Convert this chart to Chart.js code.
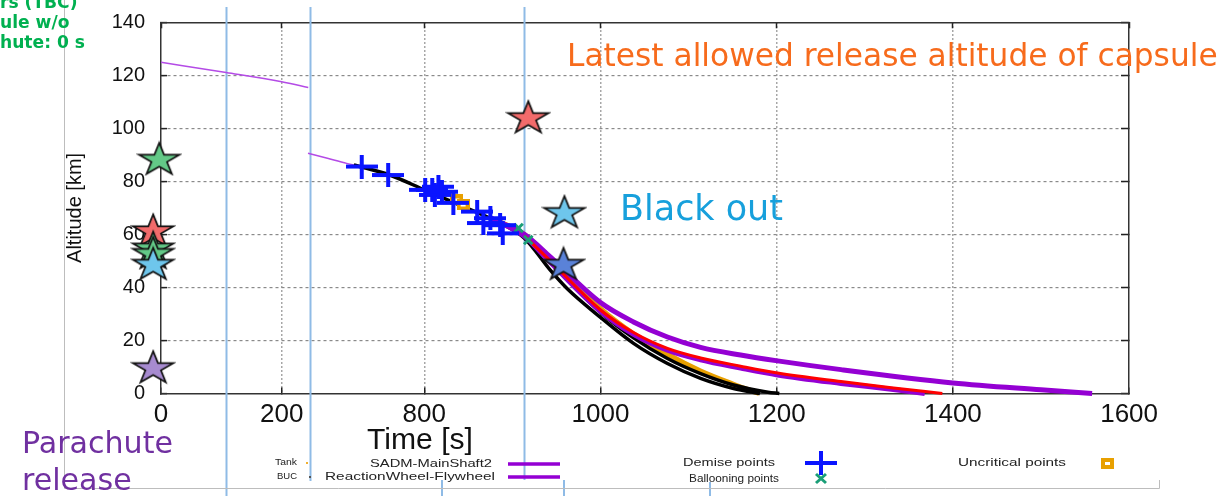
<!DOCTYPE html>
<html><head><meta charset="utf-8">
<script src="https://cdn.jsdelivr.net/npm/chart.js@4/dist/chart.umd.min.js"></script>
<style>
html,body{margin:0;padding:0;background:#fff;overflow:hidden}
#wrap{position:relative;width:1224px;height:496px}
</style></head><body>
<div id="wrap"><canvas id="c"></canvas></div>
<script>
// ---------- data (time in s, altitude in km) ----------
const xTickValues = [0, 200, 800, 1000, 1200, 1400, 1600];
const yTickValues = [0, 20, 40, 60, 80, 100, 120, 140];

const preBreakTime = [0, 108, 200, 244];
const preBreakAlt  = [124.9, 121.1, 117.6, 115.4];

const approachTime = [668, 690, 712, 730];
const approachAlt  = [90.6, 88.7, 86.8, 85.5];

const sadmTime = [875, 913.6, 943, 1000, 1037.5, 1076, 1113.6, 1159, 1201, 1273, 1400, 1500, 1558];
const sadmAlt  = [66.2, 60.0, 51.5, 34.3, 27.0, 21.3, 17.4, 14.5, 12.3, 9.0, 4.0, 1.4, 0];

const flywheelTime = [875, 913.6, 943, 1000, 1037.5, 1076, 1113.6, 1159, 1201, 1273, 1330, 1368];
const flywheelAlt  = [66.2, 59.3, 49.5, 31.0, 22.3, 16.3, 12.7, 9.6, 7.0, 3.8, 1.6, 0];

const redTime = [913.6, 943, 1000, 1037.5, 1076, 1113.6, 1159, 1201, 1273, 1330, 1388];
const redAlt  = [59.5, 50.0, 31.5, 23.0, 17.0, 13.4, 10.3, 7.7, 4.5, 2.2, 0];

const orangeTime = [875, 913.6, 943, 1000, 1037.5, 1076, 1113.6, 1151, 1180];
const orangeAlt  = [66.2, 60.0, 50.5, 32.0, 22.5, 14.8, 8.5, 3.5, 0];

const blackATime = [720, 760, 800, 841, 875, 913.6, 943, 962, 1000, 1037.5, 1076, 1113.6, 1151, 1181];
const blackAAlt  = [86.2, 82.5, 76.8, 70.9, 66.0, 58.6, 46.5, 39.6, 28.7, 18.9, 11.3, 5.7, 1.9, 0];

const blackBTime = [930, 943, 1000, 1037.5, 1076, 1113.6, 1151, 1190, 1203];
const blackBAlt  = [55.5, 50.0, 30.6, 21.0, 13.2, 7.5, 3.2, 0.5, 0];

const demiseTime = [729, 759, 801, 809, 812, 816, 820, 833, 860, 867, 875, 886, 889];
const demiseAlt  = [85.6, 82.4, 76.8, 76.8, 74.9, 78.0, 76.1, 71.9, 68.6, 64.3, 66.1, 63.5, 60.4];

const uncriticalTime = [837, 844];
const uncriticalAlt  = [73.0, 71.1];

const balloonTime = [907, 918];
const balloonAlt  = [62.4, 57.9];

const starTime  = [-3, -13, -13, -13, -13, -13, 918, 959, 958];
const starAlt   = [88.7, 61.7, 55.2, 53.2, 49.1, 10.1, 104.4, 68.6, 49.1];
const starColor = ['#63c987', '#f26b6b', '#63c987', '#63c987', '#6ec6ec', '#a78bd0', '#f26b6b', '#6ec6ec', '#5a82d8'];

// ---------- broken time axis mapping ----------
const toAxis = t => t <= 400 ? t * 0.6035 : 263.3 + (t - 800) * 0.881;
const pts = (ts, as) => ts.map((t, i) => ({x: toAxis(t), y: as[i]}));

// ---------- marker images ----------
function makeStar(fill) {
  const c = document.createElement('canvas'); c.width = 46; c.height = 36;
  const g = c.getContext('2d');
  const cx = 23, cy = 19.6, R = 21.5, r = R * 0.382, sy = 0.8;
  g.beginPath();
  for (let i = 0; i < 10; i++) {
    const a = -Math.PI / 2 + i * Math.PI / 5, rr = i % 2 ? r : R;
    const x = cx + rr * Math.cos(a), y = cy + rr * Math.sin(a) * sy;
    i ? g.lineTo(x, y) : g.moveTo(x, y);
  }
  g.closePath(); g.fillStyle = fill; g.fill();
  g.lineWidth = 1.7; g.strokeStyle = '#111'; g.lineJoin = 'miter'; g.stroke();
  return c;
}
function makeCross() {
  const c = document.createElement('canvas'); c.width = 32; c.height = 24;
  const g = c.getContext('2d');
  g.fillStyle = '#0a14ff';
  g.fillRect(0, 10, 32, 4); g.fillRect(14, 0, 4, 24);
  return c;
}
function makeSquare() {
  const c = document.createElement('canvas'); c.width = 13; c.height = 11;
  const g = c.getContext('2d');
  g.fillStyle = '#e8a000'; g.fillRect(0, 0, 13, 11);
  g.fillStyle = '#fff'; g.fillRect(4, 4, 5, 3);
  return c;
}
const crossImg = makeCross();
const squareImg = makeSquare();
const starImgs = starColor.map(makeStar);

// ---------- overlay plugin ----------
function fitText(ctx, text, x, y, w, weight, family, color, align) {
  ctx.font = `${weight} 100px ${family}`;
  const m = ctx.measureText(text).width;
  const size = 100 * w / m;
  ctx.font = `${weight} ${size}px ${family}`;
  ctx.fillStyle = color; ctx.textAlign = align || 'left'; ctx.textBaseline = 'middle';
  ctx.fillText(text, x, y);
  return size;
}
function squeezeText(ctx, text, x, y, w, px, family, color, align) {
  ctx.save();
  ctx.font = `${px}px ${family}`;
  const m = ctx.measureText(text).width;
  const sx = w / m;
  ctx.translate(x, y); ctx.scale(sx, 1);
  ctx.fillStyle = color; ctx.textAlign = align; ctx.textBaseline = 'middle';
  ctx.fillText(text, 0, 0);
  ctx.restore();
}
const overlay = {
  id: 'overlay',
  beforeDatasetsDraw(chart) {
    const ctx = chart.ctx;
    ctx.save();
    ctx.strokeStyle = '#8fbbe6'; ctx.lineWidth = 2;
    [[226.5, 7, 496], [310.5, 7, 481], [524.5, 7, 480], [442, 480, 496], [564, 480, 496], [710, 482, 496]].forEach(([x, y1, y2]) => {
      ctx.beginPath(); ctx.moveTo(x, y1); ctx.lineTo(x, y2); ctx.stroke();
    });
    ctx.restore();
  },
  afterDraw(chart) {
    const ctx = chart.ctx;
    ctx.save();
    // slide frame lines
    ctx.strokeStyle = '#bdbdbd'; ctx.lineWidth = 1;
    ctx.beginPath(); ctx.moveTo(64.5, 0); ctx.lineTo(64.5, 488.5); ctx.lineTo(1159.5, 488.5); ctx.lineTo(1159.5, 480); ctx.stroke();

    const DV = '"DejaVu Sans", Verdana, sans-serif';
    const LS = '"Liberation Sans", Arial, sans-serif';
    // x-axis title
    fitText(ctx, 'Time [s]', 420, 441, 106, 'normal', LS, '#111', 'center');
    // slide annotations
    fitText(ctx, 'Latest allowed release altitude of capsule', 567, 58, 651, 'normal', DV, '#f76b1c', 'left');
    fitText(ctx, 'Black out', 620, 211, 163, 'normal', DV, '#17a0dc', 'left');
    const ps = fitText(ctx, 'Parachute', 22, 445, 151, 'normal', DV, '#7030a0', 'left');
    ctx.font = `normal ${ps}px ${DV}`; ctx.fillText('release', 22, 482);
    // cut-off green note
    ctx.font = `bold 100px ${DV}`;
    const gs = 100 * 85 / ctx.measureText('hute: 0 s').width;
    ctx.font = `bold ${gs}px ${DV}`; ctx.fillStyle = '#00b050'; ctx.textAlign = 'left'; ctx.textBaseline = 'alphabetic';
    ctx.fillText('rs (TBC)', 0, 8);
    ctx.fillText('ule w/o', 0, 28);
    ctx.fillText('hute: 0 s', 0, 48);

    // legend block
    squeezeText(ctx, 'Tank', 297, 463, 22, 9, LS, '#222', 'right');
    squeezeText(ctx, 'BUC', 297, 477, 20, 9, LS, '#222', 'right');
    ctx.fillStyle = '#f0b030'; ctx.fillRect(306, 462, 2, 2);
    ctx.fillStyle = '#555'; ctx.fillRect(309, 476, 2, 2);
    squeezeText(ctx, 'SADM-MainShaft2', 492, 464, 122, 11, LS, '#222', 'right');
    squeezeText(ctx, 'ReactionWheel-Flywheel', 495, 477, 170, 11, LS, '#222', 'right');
    ctx.strokeStyle = '#9400d3'; ctx.lineWidth = 3.5;
    ctx.beginPath(); ctx.moveTo(508, 464); ctx.lineTo(560, 464); ctx.moveTo(508, 477); ctx.lineTo(560, 477); ctx.stroke();
    squeezeText(ctx, 'Demise points', 775, 463, 92, 11, LS, '#222', 'right');
    ctx.drawImage(crossImg, 821 - 16, 463 - 12);
    squeezeText(ctx, 'Ballooning points', 779, 479, 90, 11, LS, '#222', 'right');
    ctx.strokeStyle = '#1a9e77'; ctx.lineWidth = 3;
    ctx.beginPath(); ctx.moveTo(816, 474); ctx.lineTo(826, 483); ctx.moveTo(826, 474); ctx.lineTo(816, 483); ctx.stroke();
    squeezeText(ctx, 'Uncritical points', 1066, 463, 108, 11, LS, '#222', 'right');
    ctx.drawImage(squareImg, 1107 - 6, 463 - 5);
    ctx.restore();
  }
};

// ---------- chart ----------
const xTicksBuild = s => { s.ticks = xTickValues.map(t => ({value: toAxis(t)})); };
const noPad = s => { s.paddingTop = 0; s.paddingBottom = 0; s.paddingLeft = 0; s.paddingRight = 0; };
const lineDs = (label, ts, as, color, width, order) => ({
  type: 'line', label, data: pts(ts, as), borderColor: color, borderWidth: width,
  pointRadius: 0, fill: false, cubicInterpolationMode: 'monotone', order, clip: false
});

new Chart(document.getElementById('c'), {
  type: 'scatter',
  data: {
    datasets: [
      {label: 'Stars', data: pts(starTime, starAlt), pointStyle: starImgs, pointRadius: 18, order: 0, clip: false},
      {label: 'Demise points', data: pts(demiseTime, demiseAlt), pointStyle: crossImg, pointRadius: 12, order: 1},
      {label: 'Uncritical points', data: pts(uncriticalTime, uncriticalAlt), pointStyle: squareImg, pointRadius: 6, order: 1},
      {label: 'Ballooning points', data: pts(balloonTime, balloonAlt), pointStyle: 'crossRot', pointRadius: 6, borderWidth: 3, borderColor: '#1a9e77', backgroundColor: '#1a9e77', order: 1},
      lineDs('Approach', approachTime, approachAlt, '#b44be6', 1.5, 9),
      lineDs('Pre-break', preBreakTime, preBreakAlt, '#b44be6', 1.5, 9),
      lineDs('SADM-MainShaft2', sadmTime, sadmAlt, '#9400d3', 5, 5),
      lineDs('Red', redTime, redAlt, '#ff0000', 3, 4),
      lineDs('ReactionWheel-Flywheel', flywheelTime, flywheelAlt, '#9400d3', 5, 6),
      lineDs('Tank', orangeTime, orangeAlt, '#e8a000', 5, 8),
      lineDs('BUC A', blackATime, blackAAlt, '#000', 3.5, 7),
      lineDs('BUC B', blackBTime, blackBAlt, '#000', 3.5, 7)
    ]
  },
  options: {
    responsive: true, maintainAspectRatio: false, animation: false,
    layout: {padding: 0},
    plugins: {legend: {display: false}, tooltip: {enabled: false}},
    scales: {
      x: {
        type: 'linear', position: 'bottom', min: 0, max: 968,
        afterBuildTicks: xTicksBuild,
        afterFit: s => { s.height = 102.5; noPad(s); },
        ticks: {autoSkip: false, maxRotation: 0, padding: 12, color: '#111',
          font: {family: '"Liberation Sans", Arial, sans-serif', size: 26},
          callback: (v, i) => String(xTickValues[i])},
        grid: {color: c => (c.index === 0 || c.index === xTickValues.length - 1) ? 'rgba(0,0,0,0)' : '#8a8a8a',
          lineWidth: 1.5, drawTicks: true, tickLength: -6, tickColor: '#222', tickWidth: 1.5},
        border: {color: '#333', width: 1.5, dash: [1.5, 2.5]}
      },
      xTop: {
        type: 'linear', position: 'top', min: 0, max: 968,
        afterBuildTicks: xTicksBuild,
        afterFit: s => { s.height = 22.3; noPad(s); },
        ticks: {display: false},
        grid: {drawOnChartArea: false, drawTicks: true, tickLength: -6, tickColor: '#222', tickWidth: 1.5},
        border: {color: '#333', width: 1.5}
      },
      y: {
        type: 'linear', position: 'left', min: 0, max: 140,
        afterBuildTicks: s => { s.ticks = yTickValues.map(v => ({value: v})); },
        afterFit: s => { s.width = 161; noPad(s); },
        ticks: {padding: 22, color: '#111', font: {family: '"Liberation Sans", Arial, sans-serif', size: 20}},
        title: {display: true, text: 'Altitude [km]', color: '#111', padding: {top: 63},
          font: {family: '"Liberation Sans", Arial, sans-serif', size: 20}},
        grid: {color: c => (c.index === 0 || c.index === yTickValues.length - 1) ? 'rgba(0,0,0,0)' : '#8a8a8a',
          lineWidth: 1.2, drawTicks: true, tickLength: -6, tickColor: '#222', tickWidth: 1.5},
        border: {color: '#333', width: 1.5, dash: [3, 3]}
      },
      yRight: {
        type: 'linear', position: 'right', min: 0, max: 140,
        afterBuildTicks: s => { s.ticks = yTickValues.map(v => ({value: v})); },
        afterFit: s => { s.width = 95; noPad(s); },
        ticks: {display: false},
        grid: {drawOnChartArea: false, drawTicks: true, tickLength: -8, tickColor: '#222', tickWidth: 1.5},
        border: {color: '#333', width: 1.5}
      }
    }
  },
  plugins: [overlay]
});
</script>
</body></html>
